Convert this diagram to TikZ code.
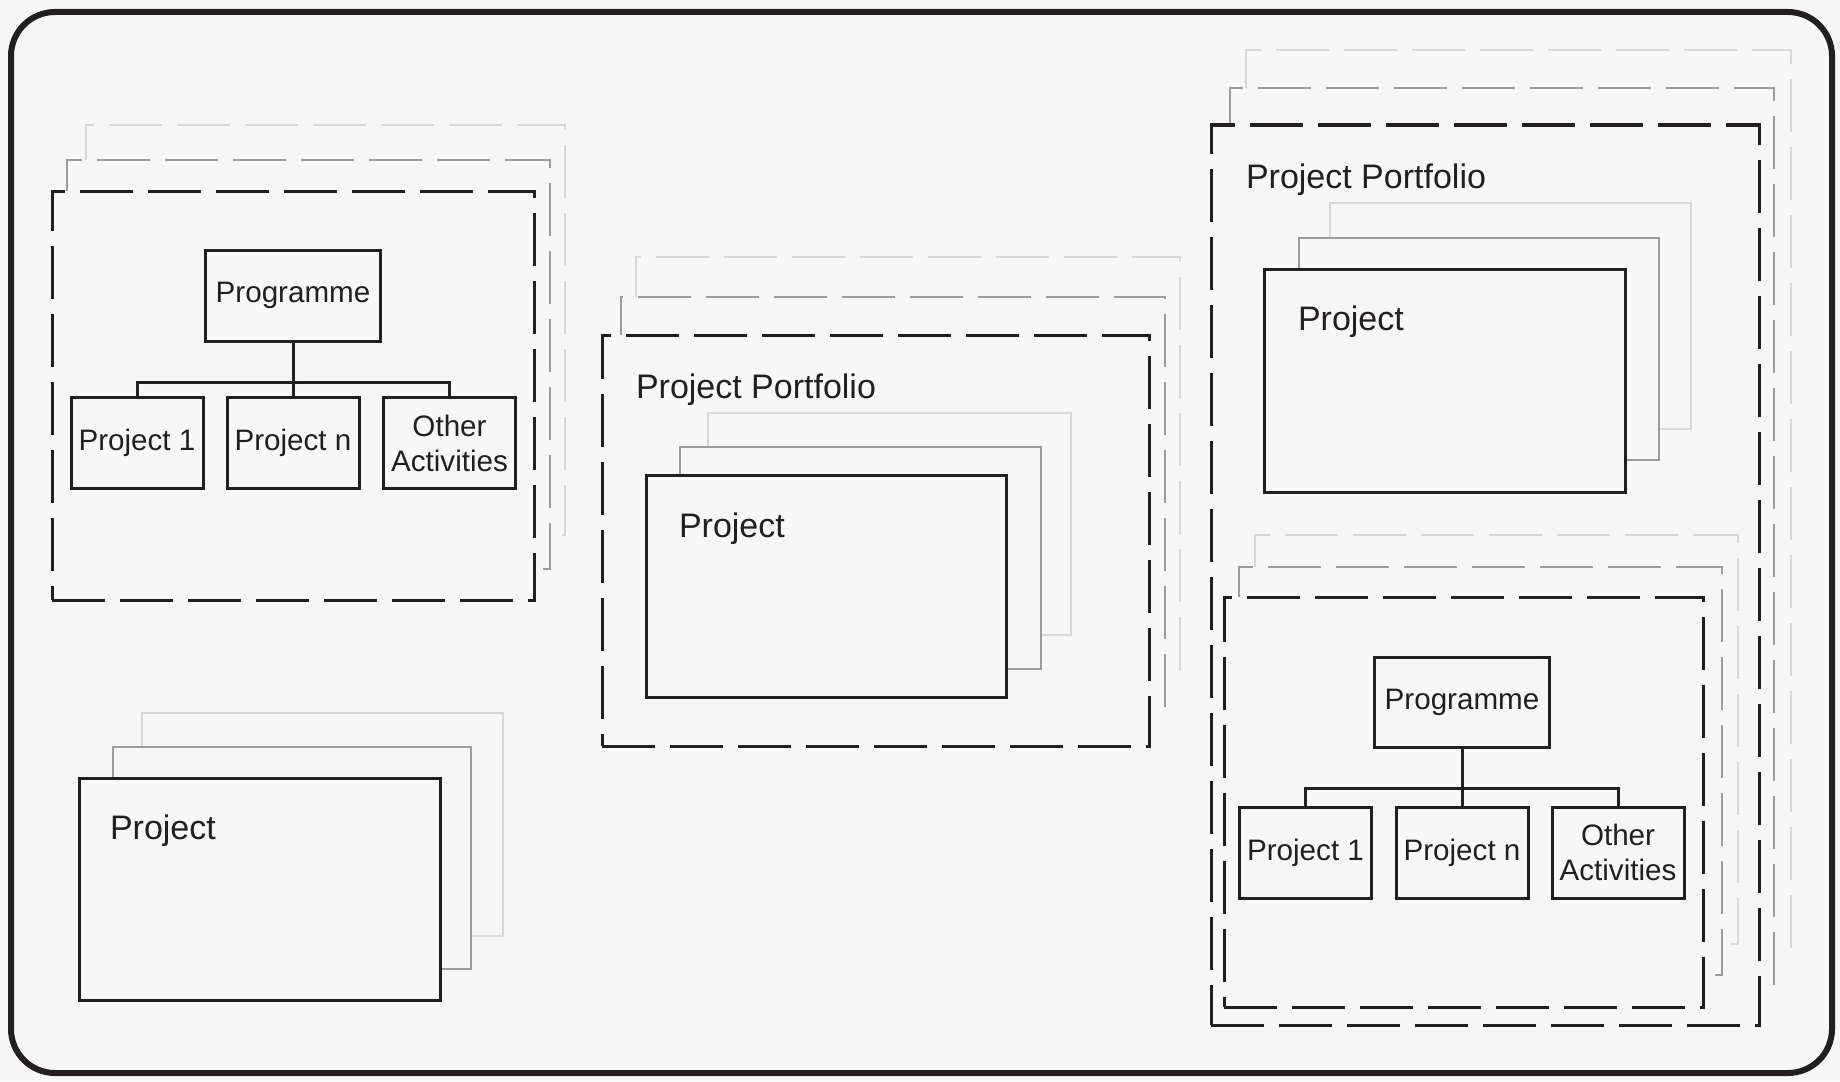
\documentclass[tikz,border=0pt]{standalone}
\usepackage{fontspec}
\setmainfont{Liberation Sans}
\usepackage{tikz}
\usetikzlibrary{fit}

\definecolor{ink}{HTML}{231F20}
\definecolor{midgrey}{HTML}{9C9CA0}
\definecolor{lightgrey}{HTML}{D8D8D8}
\definecolor{paper}{HTML}{F7F7F7}

\begin{document}
\begin{tikzpicture}[
  x=0.5pt, y=-0.5pt,
  every node/.style={inner sep=0pt, outer sep=0pt},
  sheet/.style={draw=ink, line width=3pt, rounded corners=22pt, fill=paper},
  longdash/.style={dash pattern=on 26.5pt off 7.5pt},
  frontframe/.style={draw=ink, line width=1.5pt, longdash, fill=paper},
  midframe/.style={draw=midgrey, line width=1.3pt, longdash, fill=paper},
  backframe/.style={draw=lightgrey, line width=1.3pt, longdash, fill=paper},
  frontcard/.style={draw=ink, line width=1.5pt, fill=paper},
  midcard/.style={draw=midgrey, line width=1.3pt, fill=paper},
  backcard/.style={draw=lightgrey, line width=1.3pt, fill=paper},
  box/.style={draw=ink, line width=1.5pt, fill=paper, align=center, text=ink,
    minimum width=66pt, minimum height=45.5pt, font=\fontsize{14.8}{17.5}\selectfont},
  prog/.style={box, minimum width=87.5pt},
  lbl/.style={anchor=base west, text=ink, font=\fontsize{17}{20}\selectfont},
  wire/.style={draw=ink, line width=1.5pt}
]
\fill[paper] (0,0) rectangle (1840,1081);
\useasboundingbox (0,0) rectangle (1840,1081);
\node[sheet, fit={(11,12) (1832,1073)}] (sheet) {};

\node[backframe, fit={(86,125) (565,535)}] (pga3) {};
\node[midframe, fit={(67,160) (550,569)}] (pga2) {};
\node[frontframe, fit={(52,191) (534,600)}] (pga1) {};
\node[prog] (prga) at (293,295.5) {Programme};
\node[box] (p1a) at (137,443) {Project 1};
\node[box] (pna) at (293,443) {Project n};
\node[box] (oaa) at (449.5,443) {Other\\Activities};
\coordinate (busa) at (293,382);
\draw[wire] (prga) -- (pna);
\draw[wire] (p1a) |- (busa) -| (oaa);

\node[backcard, fit={(142,713) (503,936)}] (pja3) {};
\node[midcard, fit={(113,747) (471,969)}] (pja2) {};
\node[frontcard, fit={(79,778) (440,1000)}] (pja1) {};
\node[lbl] (pjta) at (110,839) {Project};

\node[backframe, fit={(636,257) (1180,670)}] (pfa3) {};
\node[midframe, fit={(621,297) (1165,707)}] (pfa2) {};
\node[frontframe, fit={(602,335) (1149,746)}] (pfa1) {};
\node[lbl] (pfta) at (636,398) {Project Portfolio};
\node[backcard, fit={(708,413) (1071,635)}] (pjb3) {};
\node[midcard, fit={(680,447) (1041,669)}] (pjb2) {};
\node[frontcard, fit={(646,475) (1006,697)}] (pjb1) {};
\node[lbl] (pjtb) at (679,537) {Project};

\node[backframe, fit={(1246,50) (1791,947)}] (pfb3) {};
\node[midframe, fit={(1230,88) (1774,985)}] (pfb2) {};
\node[frontframe, fit={(1211,125) (1759,1025)}] (pfb1) {};
\node[lbl] (pftb) at (1246,188) {Project Portfolio};
\node[backcard, fit={(1330,203) (1691,429)}] (pjc3) {};
\node[midcard, fit={(1299,238) (1659,460)}] (pjc2) {};
\node[frontcard, fit={(1264,269) (1625,492)}] (pjc1) {};
\node[lbl] (pjtc) at (1298,330) {Project};
\node[backframe, fit={(1255,535) (1738,944)}] (pgb3) {};
\node[midframe, fit={(1239,567) (1722,975)}] (pgb2) {};
\node[frontframe, fit={(1224,597) (1703,1007)}] (pgb1) {};
\node[prog, minimum height=45pt] (prgb) at (1462,702) {Programme};
\node[box] (p1b) at (1305.5,852.5) {Project 1};
\node[box] (pnb) at (1462,852.5) {Project n};
\node[box] (oab) at (1618,852.5) {Other\\Activities};
\coordinate (busb) at (1462,788);
\draw[wire] (prgb) -- (pnb);
\draw[wire] (p1b) |- (busb) -| (oab);
\end{tikzpicture}
\end{document}
